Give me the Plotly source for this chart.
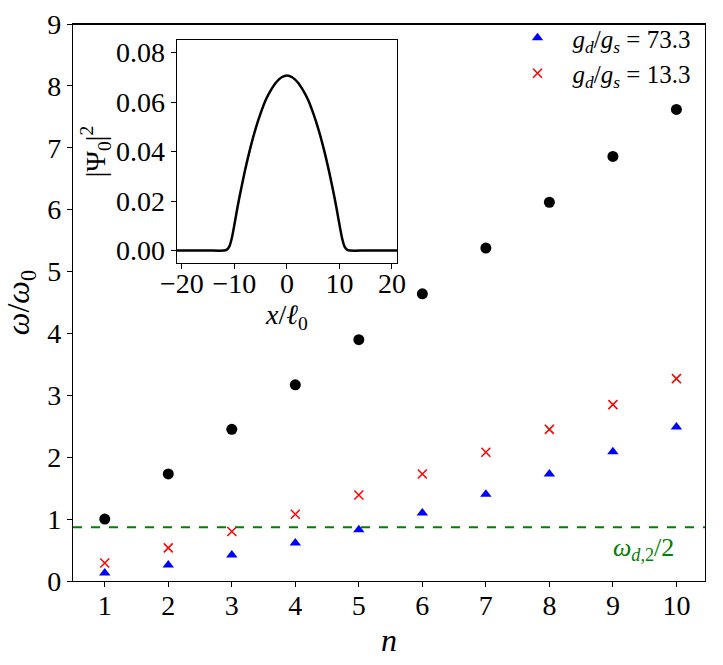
import plotly.graph_objects as go

# main panel: frequencies vs mode number
n = [1, 2, 3, 4, 5, 6, 7, 8, 9, 10]
omega_black = [1.00, 1.73, 2.45, 3.17, 3.90, 4.64, 5.38, 6.12, 6.86, 7.62]
omega_73 = [0.13, 0.26, 0.42, 0.615, 0.83, 1.10, 1.40, 1.73, 2.09, 2.49]
omega_13 = [0.29, 0.535, 0.80, 1.08, 1.39, 1.73, 2.08, 2.45, 2.85, 3.27]
omega_d2_half = 0.867

# inset: ground state density
x_inset = [-21, -15, -12, -11.5, -11, -10.5, -10, -9.5, -9, -8, -7, -6, -5, -4, -3, -2, -1, 0,
           1, 2, 3, 4, 5, 6, 7, 8, 9, 9.5, 10, 10.5, 11, 11.5, 12, 15, 21]
psi_sq = [0.0, 0.0, 0.0, 0.0003, 0.0015, 0.005, 0.0105, 0.0165, 0.022, 0.0322, 0.0412,
          0.0490, 0.0555, 0.0610, 0.0650, 0.0681, 0.0700, 0.0707,
          0.0700, 0.0681, 0.0650, 0.0610, 0.0555, 0.0490, 0.0412, 0.0322, 0.022, 0.0165,
          0.0105, 0.005, 0.0015, 0.0003, 0.0, 0.0, 0.0]

FONT = "Liberation Serif, Times New Roman, serif"
SIZE = 28

fig = go.Figure()

fig.add_trace(go.Scatter(
    x=n, y=omega_73, mode="markers", name="<i>g<sub>d</sub></i>/<i>g<sub>s</sub></i> = 73.3",
    marker=dict(symbol="triangle-up", color="blue", size=10),
))
fig.add_trace(go.Scatter(
    x=n, y=omega_13, mode="markers", name="<i>g<sub>d</sub></i>/<i>g<sub>s</sub></i> = 13.3",
    marker=dict(symbol="x-thin", color="red", size=9, line=dict(color="red", width=1.5)),
))
fig.add_trace(go.Scatter(
    x=n, y=omega_black, mode="markers", showlegend=False,
    marker=dict(symbol="circle", color="black", size=11),
))
fig.add_trace(go.Scatter(
    x=[0.5, 10.45], y=[omega_d2_half] * 2, mode="lines", showlegend=False,
    line=dict(color="green", width=2, dash="dash"),
))
fig.add_trace(go.Scatter(
    x=x_inset, y=psi_sq, mode="lines", showlegend=False, xaxis="x2", yaxis="y2",
    line=dict(color="black", width=2.5, shape="spline", smoothing=0.6),
))

fig.add_annotation(
    x=10, y=0.52, xref="x", yref="y", text="<i>ω</i><sub><i>d</i>,2</sub>/2",
    showarrow=False, xanchor="right", yanchor="middle",
    font=dict(family=FONT, size=26, color="green"),
)

# top spine drawn again as a shape along the upper edge of the main axes
fig.add_shape(type="line", xref="paper", yref="y", x0=0, x1=1, y0=9, y1=9,
              line=dict(color="black", width=2), layer="above")

axis_common = dict(
    showline=True, linecolor="black", linewidth=1.2, mirror=True,
    ticks="outside", ticklen=5, tickcolor="black", showgrid=False, zeroline=False,
    tickfont=dict(family=FONT, size=SIZE, color="black"), ticklabeloverflow="allow",
)

fig.update_layout(
    width=723, height=665,
    margin=dict(l=73, r=9, t=21, b=84),
    plot_bgcolor="white", paper_bgcolor="white",
    font=dict(family=FONT, color="black"),
    xaxis=dict(
        range=[0.5, 10.45], tickvals=n, domain=[0, 1], ticklabelstandoff=-6,
        title=dict(text="<i>n</i>", font=dict(family=FONT, size=32, color="black"), standoff=8),
        **axis_common,
    ),
    yaxis=dict(
        range=[0, 9], dtick=1, domain=[0, 1],
        title=dict(text="<i>ω</i>/<i>ω</i><sub>0</sub>", font=dict(family=FONT, size=32, color="black"),
                   standoff=8),
        **axis_common,
    ),
    xaxis2=dict(
        range=[-21, 21], tickvals=[-20, -10, 0, 10, 20], domain=[0.164, 0.513], anchor="y2",
        ticklabelstandoff=-10,
        title=dict(text="<i>x</i>/<i>ℓ</i><sub>0</sub>", font=dict(family=FONT, size=SIZE, color="black"),
                   standoff=0),
        **axis_common,
    ),
    yaxis2=dict(
        range=[-0.005, 0.085], tickvals=[0, 0.02, 0.04, 0.06, 0.08], tickformat=".2f",
        domain=[0.571, 0.971], anchor="x2",
        title=dict(text="|Ψ<sub>0</sub>|<sup>2</sup>", font=dict(family=FONT, size=SIZE, color="black"),
                   standoff=2),
        **axis_common,
    ),
    legend=dict(
        x=0.985, y=1.016, xanchor="right", yanchor="top",
        bgcolor="rgba(0,0,0,0)", font=dict(family=FONT, size=25, color="black"),
        tracegroupgap=0, itemwidth=60,
    ),
    showlegend=True,
)

# the page body has a default 8px margin; drop it so the figure fills the window
fig.write_html("out.html", config={"displayModeBar": False},
               post_script="document.body.style.margin = '0';")
